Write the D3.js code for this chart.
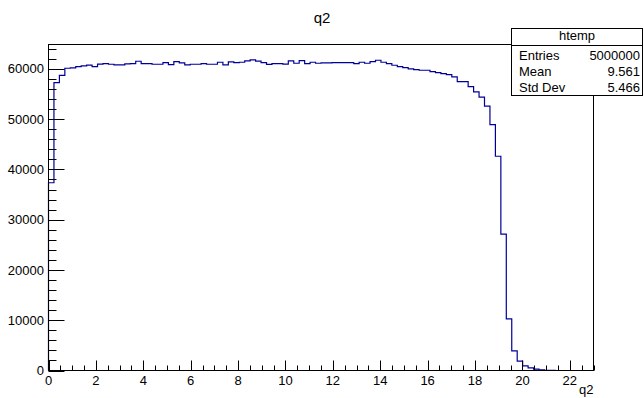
<!DOCTYPE html>
<html>
<head>
<meta charset="utf-8">
<script src="https://cdn.jsdelivr.net/npm/d3@7"></script>
<style>
  html, body { margin: 0; padding: 0; background: #fff; }
  svg { display: block; font-family: "Liberation Sans", Arial, Helvetica, sans-serif; }
</style>
</head>
<body>
<svg id="chart" width="644" height="398"></svg>
<script>
// ---- data ----
const histTitle = "q2";
const xAxisTitle = "q2";
const xMin = 0, xMax = 23, nBins = 100;
const yMax = 64850;
const binValues = [
  37350, 57250, 58700, 60130, 60200, 60450, 60600, 60750, 60450, 60950,
  61050, 60920, 60800, 60800, 60990, 61050, 61520, 61050, 61050, 60920,
  60920, 61250, 60860, 61450, 61190, 60790, 60920, 60920, 61055, 60920,
  60920, 61320, 60790, 61390, 61250, 61320, 61590, 61780, 61550, 61250,
  60880, 61055, 61055, 60950, 61590, 61120, 61650, 61055, 61320, 61120,
  61190, 61190, 61250, 61250, 61250, 61250, 61055, 61320, 61120, 61450,
  61720, 61320, 61055, 60720, 60460, 60260, 59990, 59860, 59730, 59730,
  59460, 59260, 59060, 58870, 58400, 57480, 57480, 56480, 55420, 54400,
  52580, 48920, 42620, 27120, 10260, 3900, 1850, 920, 520, 260,
  120, 50, 15, 0, 0, 0, 0, 0, 0, 0
];
const xTickValues = [0, 2, 4, 6, 8, 10, 12, 14, 16, 18, 20, 22];
const yTickValues = [0, 10000, 20000, 30000, 40000, 50000, 60000];
const statsName = "htemp";
const statsLabels = ["Entries", "Mean", "Std Dev"];
const statsValues = ["5000000", "9.561", "5.466"];

// ---- layout ----
const svg = d3.select("#chart");
const frame = { left: 48.5, right: 593.5, top: 44.5, bottom: 370.5 };

const x = d3.scaleLinear().domain([xMin, xMax]).range([frame.left, frame.right]);
const y = d3.scaleLinear().domain([0, yMax]).range([frame.bottom, frame.top]);
const binW = (xMax - xMin) / nBins;

// title
svg.append("text")
  .attr("x", 322).attr("y", 23)
  .attr("text-anchor", "middle")
  .attr("font-size", 15)
  .text(histTitle);

// histogram step path
const pts = [[x(xMin), y(0)]];
binValues.forEach((v, i) => {
  const x0 = x(xMin + i * binW), x1 = x(xMin + (i + 1) * binW);
  pts.push([x0, y(v)], [x1, y(v)]);
});
pts.push([x(xMax), y(0)]);
svg.append("path")
  .attr("d", d3.line()(pts))
  .attr("fill", "none")
  .attr("stroke", "#000099")
  .attr("stroke-width", 1.2);

// frame
svg.append("rect")
  .attr("x", frame.left).attr("y", frame.top)
  .attr("width", frame.right - frame.left)
  .attr("height", frame.bottom - frame.top)
  .attr("fill", "none").attr("stroke", "#000").attr("stroke-width", 1);

// x axis ticks (inward, upward)
const xMinor = d3.range(0, xMax + 0.001, 0.5);
const gx = svg.append("g");
gx.selectAll("line.minor").data(xMinor).enter().append("line")
  .attr("x1", d => Math.round(x(d)) + 0.5).attr("x2", d => Math.round(x(d)) + 0.5)
  .attr("y1", frame.bottom).attr("y2", d => frame.bottom - (d % 2 === 0 ? 10 : 5))
  .attr("stroke", "#000").attr("stroke-width", 1);
gx.selectAll("text").data(xTickValues).enter().append("text")
  .attr("x", d => x(d)).attr("y", 385)
  .attr("text-anchor", "middle").attr("font-size", 13)
  .text(d => d);

// x axis title
svg.append("text")
  .attr("x", frame.right).attr("y", 394)
  .attr("text-anchor", "end").attr("font-size", 13)
  .text(xAxisTitle);

// y axis ticks (inward, rightward)
const yMinor = d3.range(0, yMax, 2000);
const gy = svg.append("g");
gy.selectAll("line").data(yMinor).enter().append("line")
  .attr("y1", d => Math.round(y(d)) + 0.5).attr("y2", d => Math.round(y(d)) + 0.5)
  .attr("x1", frame.left).attr("x2", d => frame.left + (d % 10000 === 0 ? 16 : 8))
  .attr("stroke", "#000").attr("stroke-width", 1);
gy.selectAll("text").data(yTickValues).enter().append("text")
  .attr("x", 44).attr("y", d => y(d))
  .attr("dy", "0.35em")
  .attr("text-anchor", "end").attr("font-size", 13)
  .text(d => d);

// stats box
const sb = { x: 511.5, y: 28.5, w: 131, h: 67 };
svg.append("rect")
  .attr("x", sb.x).attr("y", sb.y).attr("width", sb.w).attr("height", sb.h)
  .attr("fill", "#fff").attr("stroke", "#000").attr("stroke-width", 1);
svg.append("line")
  .attr("x1", sb.x).attr("x2", sb.x + sb.w)
  .attr("y1", 45.5).attr("y2", 45.5)
  .attr("stroke", "#000").attr("stroke-width", 1);
svg.append("text")
  .attr("x", sb.x + sb.w / 2).attr("y", 40)
  .attr("text-anchor", "middle").attr("font-size", 13)
  .text(statsName);
const rowY = [60, 76, 92];
statsLabels.forEach((lab, i) => {
  svg.append("text").attr("x", 519).attr("y", rowY[i])
    .attr("font-size", 13).text(lab);
  svg.append("text").attr("x", 640).attr("y", rowY[i])
    .attr("text-anchor", "end").attr("font-size", 13).text(statsValues[i]);
});
</script>
</body>
</html>
